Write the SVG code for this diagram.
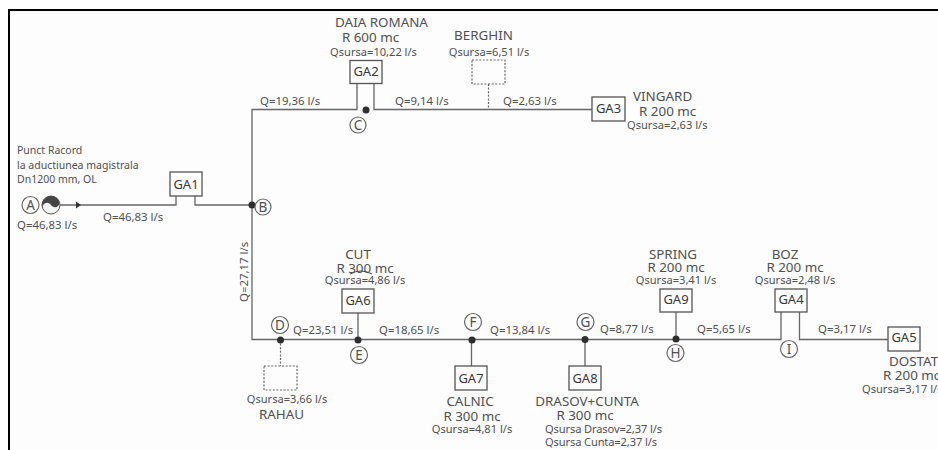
<svg xmlns="http://www.w3.org/2000/svg" width="938" height="450" viewBox="0 0 938 450">
<style>
text{font-family:"Noto Sans","DejaVu Sans",sans-serif;fill:#505050;font-size:11.1px}
.p{font-size:10.5px}
.q{font-size:11.4px}
.t{font-size:13.4px;text-anchor:middle}
.u{font-size:13.4px}
.s{text-anchor:middle}
.g{font-size:13px;text-anchor:middle;fill:#383838}
.l{font-size:13.5px;text-anchor:middle}
.b{fill:#fdfdfd;stroke:#555;stroke-width:1.3}
.d{fill:none;stroke:#666;stroke-width:1.2;stroke-dasharray:2 1.6}
.w{fill:none;stroke:#666;stroke-width:1.3}
.n{fill:#2e2e2e}
.c{fill:#fdfdfd;stroke:#666;stroke-width:1.2}
</style>
<rect width="938" height="450" fill="#fff"/>
<rect x="9" y="10" width="940" height="450" fill="#fdfdfd" stroke="#000" stroke-width="2"/>
<g id="connectors">
<path class="w" d="M60 205H176V196M195 196V205H252"/>
<path fill="#333" d="M76 201.500L81 205L76 208.500Z"/>
<path class="w" d="M252 205V109.500H357V83M374 83V109.500H592"/>
<path class="w" d="M252 205V339.500H781V312M799.500 312V339.500H888"/>
<path class="w" d="M358 313V340M471.500 340V366M585 340V366M676 312V340"/>
<path class="d" d="M488.500 84V109M280.500 340V366"/>
<path fill="none" stroke="#444" stroke-width="1" d="M350 274Q361 268 372 274"/>
</g>
<g id="A"><circle class="c" cx="30.500" cy="205" r="8.500"/><text class="l" x="30.500" y="210">A</text>
<circle cx="51" cy="205" r="9" fill="#f4f4f4" stroke="#555"/><path fill="#444" d="M51 214A9 9 0 0 0 51 196A4.500 4.500 0 0 1 51 205A4.500 4.500 0 0 0 51 214Z" transform="rotate(-120 51 205)"/>
<text class="q" x="17" y="229">Q=46,83 l/s</text><text class="p" x="17" y="154">Punct Racord</text><text class="p" x="17" y="169">la aductiunea magistrala</text><text class="p" x="17" y="183">Dn1200 mm, OL</text></g>
<g id="GA1"><rect class="b" x="170" y="172" width="32" height="24"/><text class="g" x="186" y="189">GA1</text></g>
<g id="B"><circle class="n" cx="252" cy="205" r="3.500"/><circle class="c" cx="263" cy="207" r="8"/><text class="l" x="263" y="212">B</text></g>
<g id="GA2"><rect class="b" x="350" y="60.500" width="32" height="23"/><text class="g" x="366" y="76">GA2</text><text class="t" x="381.500" y="27">DAIA ROMANA</text><text class="t" x="370.500" y="42">R 600 mc</text><text class="s" x="373.500" y="56">Qsursa=10,22 l/s</text></g>
<g id="C"><circle class="n" cx="366" cy="110" r="3.500"/><circle class="c" cx="358" cy="125" r="8"/><text class="l" x="358" y="130">C</text></g>
<g id="BERGHIN"><rect class="d" x="472" y="60" width="33" height="24"/><text class="t" x="483.500" y="40">BERGHIN</text><text class="s" x="489" y="56">Qsursa=6,51 l/s</text></g>
<g id="GA3"><rect class="b" x="592" y="97" width="33" height="24"/><text class="g" x="608.500" y="113">GA3</text><text class="u" x="633" y="101">VINGARD</text><text class="u" x="639" y="116">R 200 mc</text><text x="627" y="129">Qsursa=2,63 l/s</text></g>
<g id="GA6"><rect class="b" x="342" y="289" width="32" height="24"/><text class="g" x="358" y="305">GA6</text><text class="t" x="358" y="259">CUT</text><text class="t" x="365" y="273">R 300 mc</text><text class="s" x="365" y="284">Qsursa=4,86 l/s</text></g>
<g id="D"><circle class="n" cx="280.500" cy="340" r="3.500"/><circle class="c" cx="280" cy="325" r="8.500"/><text class="l" x="280" y="330">D</text></g>
<g id="E"><circle class="n" cx="358" cy="340" r="3.500"/><circle class="c" cx="359" cy="355" r="8.500"/><text class="l" x="359" y="360">E</text></g>
<g id="F"><circle class="n" cx="472" cy="340" r="3.500"/><circle class="c" cx="473" cy="322" r="8.500"/><text class="l" x="473" y="327">F</text></g>
<g id="RAHAU"><rect class="d" x="264" y="366" width="33" height="24"/><text class="s" x="287" y="403">Qsursa=3,66 l/s</text><text class="t" x="281.500" y="419">RAHAU</text></g>
<g id="GA7"><rect class="b" x="455" y="366" width="32" height="24"/><text class="g" x="471" y="383">GA7</text><text class="t" x="470" y="406">CALNIC</text><text class="t" x="472" y="421">R 300 mc</text><text class="s" x="472" y="433">Qsursa=4,81 l/s</text></g>
<g id="G"><circle class="n" cx="585" cy="339.500" r="3.500"/><circle class="c" cx="585.500" cy="322" r="8.500"/><text class="l" x="585.500" y="327">G</text></g>
<g id="GA8"><rect class="b" x="569" y="366" width="32" height="24"/><text class="g" x="585" y="383">GA8</text><text class="t" x="587" y="406">DRASOV+CUNTA</text><text class="t" x="585" y="420">R 300 mc</text><text x="545" y="433" textLength="117">Qsursa Drasov=2,37 l/s</text><text x="545" y="446" textLength="112">Qsursa Cunta=2,37 l/s</text></g>
<g id="H"><circle class="n" cx="676" cy="339" r="3.500"/><circle class="c" cx="675.500" cy="353" r="8.500"/><text class="l" x="675.500" y="358">H</text></g>
<g id="GA9"><rect class="b" x="660" y="289" width="32" height="23"/><text class="g" x="676" y="304">GA9</text><text class="t" x="673" y="259">SPRING</text><text class="t" x="676" y="272">R 200 mc</text><text class="s" x="676" y="284">Qsursa=3,41 l/s</text></g>
<g id="GA4"><rect class="b" x="775" y="289" width="32" height="23"/><text class="g" x="791" y="304">GA4</text><text class="t" x="785" y="259">BOZ</text><text class="t" x="795" y="272">R 200 mc</text><text class="s" x="795" y="284">Qsursa=2,48 l/s</text></g>
<g id="I"><circle class="c" cx="789" cy="349" r="8.500"/><text class="l" x="789" y="354">I</text></g>
<g id="GA5"><rect class="b" x="888" y="327" width="32" height="24"/><text class="g" x="904" y="342">GA5</text><text class="u" x="889" y="366">DOSTAT</text><text class="u" x="883" y="380">R 200 mc</text><text x="862" y="393">Qsursa=3,17 l/s</text></g>
<g id="flows">
<text class="q" x="103" y="220.500">Q=46,83 l/s</text>
<text class="q" x="260" y="104.500">Q=19,36 l/s</text>
<text class="q" x="395" y="104.500">Q=9,14 l/s</text>
<text class="q" x="503" y="104.500">Q=2,63 l/s</text>
<text class="q" transform="translate(248 302) rotate(-90)">Q=27,17 l/s</text>
<text class="q" x="293" y="334">Q=23,51 l/s</text>
<text class="q" x="379" y="334">Q=18,65 l/s</text>
<text class="q" x="490" y="334">Q=13,84 l/s</text>
<text class="q" x="600" y="333">Q=8,77 l/s</text>
<text class="q" x="697" y="333">Q=5,65 l/s</text>
<text class="q" x="818" y="333">Q=3,17 l/s</text>
</g>
</svg>
